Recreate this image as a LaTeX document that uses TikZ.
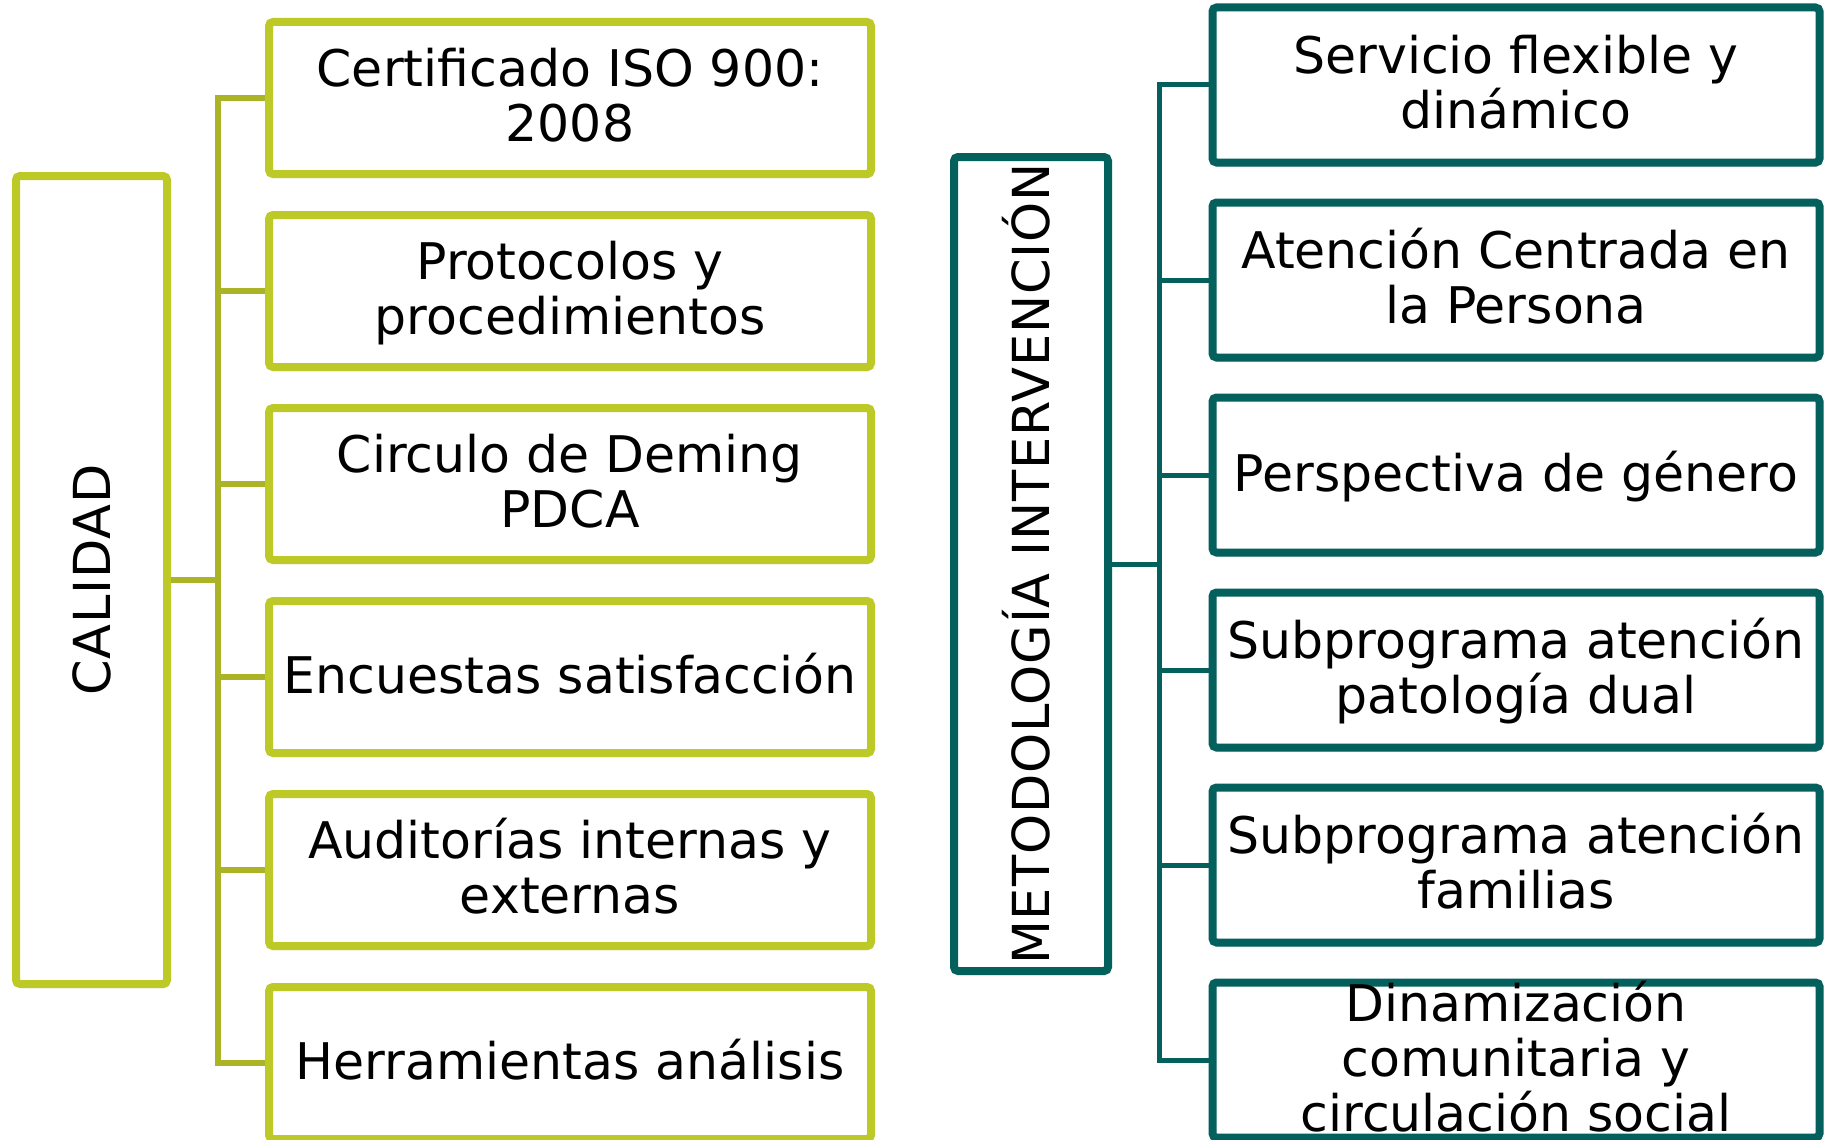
\documentclass[tikz,border=0pt]{standalone}
\usepackage{fontspec}
\setmainfont{DejaVu Sans}
\usetikzlibrary{shadows}
\definecolor{limec}{HTML}{BDC926}
\definecolor{limeline}{HTML}{AAB424}
\definecolor{tealc}{HTML}{03605C}
\newcommand{\sst}{\rule[-11pt]{0pt}{54pt}}
\begin{document}
\begin{tikzpicture}[x=1pt,y=-1pt,
  box/.style={draw, fill=white, line width=8pt, rounded corners=4pt, inner sep=0pt,
    drop shadow={shadow xshift=1.5pt, shadow yshift=-4pt, opacity=0.35, fill=black!45}},
  gbox/.style={box, draw=limec},
  tbox/.style={box, draw=tealc},
  lchild/.style={gbox, minimum width=602pt, minimum height=152pt},
  rchild/.style={tbox, minimum width=607pt, minimum height=155pt},
  txt/.style={font=\fontsize{50.5}{55}\selectfont, align=center, inner sep=0pt},
  rtxt/.style={font=\fontsize{51}{55}\selectfont\addfontfeature{LetterSpace=1.7}, inner sep=0pt, rotate=90, text height=37pt, text depth=0pt},
  gconn/.style={draw=limeline, line width=6pt},
  tconn/.style={draw=tealc, line width=5pt},
]
\useasboundingbox (0,0) rectangle (1824,1140);

% ---- left group ----
\node[gbox, minimum width=151pt, minimum height=808pt] (cal) at (91.5,580) {};
\node[rtxt] (calt) at (cal) {CALIDAD};

\node[lchild] (l1) at (570,98) {};
\node[lchild] (l2) at (570,291) {};
\node[lchild] (l3) at (570,484) {};
\node[lchild] (l4) at (570,677) {};
\node[lchild] (l5) at (570,870) {};
\node[lchild] (l6) at (570,1063) {};

\node[txt] (l1t) at (l1) {\sst Certificado ISO 900:\\\sst 2008};
\node[txt] (l2t) at (l2) {\sst Protocolos y\\\sst procedimientos};
\node[txt] (l3t) at (l3) {\sst Circulo de Deming\\\sst PDCA};
\node[txt] (l4t) at (l4) {\sst Encuestas satisfacción};
\node[txt] (l5t) at (l5) {\sst Auditorías internas y\\\sst externas};
\node[txt] (l6t) at (l6) {\sst Herramientas análisis};

\coordinate (lb) at (217.5,580);
\draw[gconn] (cal.east) -- (lb);
\draw[gconn] (l1.west) -- (lb |- l1.west) -- (lb |- l6.west) -- (l6.west);
\foreach \i in {2,3,4,5} {\draw[gconn] (lb |- l\i.west) -- (l\i.west);}

% ---- right group ----
\node[tbox, minimum width=154pt, minimum height=814pt] (meto) at (1031,564) {};
\node[rtxt] (metot) at (meto) {METODOLOGÍA INTERVENCIÓN};

\node[rchild] (r1) at (1516,85) {};
\node[rchild] (r2) at (1516,280) {};
\node[rchild] (r3) at (1516,475) {};
\node[rchild] (r4) at (1516,670) {};
\node[rchild] (r5) at (1516,865) {};
\node[rchild] (r6) at (1516,1060) {};

\node[txt] (r1t) at (r1) {\sst Servicio flexible y\\\sst dinámico};
\node[txt] (r2t) at (r2) {\sst Atención Centrada en\\\sst la Persona};
\node[txt] (r3t) at (r3) {\sst Perspectiva de género};
\node[txt] (r4t) at (r4) {\sst Subprograma atención\\\sst patología dual};
\node[txt] (r5t) at (r5) {\sst Subprograma atención\\\sst familias};
\node[txt] (r6t) at (r6) {\sst Dinamización\\\sst comunitaria y\\\sst circulación social};

\coordinate (rb) at (1159.5,564);
\draw[tconn] (meto.east) -- (rb);
\draw[tconn] (r1.west) -- (rb |- r1.west) -- (rb |- r6.west) -- (r6.west);
\foreach \i in {2,3,4,5} {\draw[tconn] (rb |- r\i.west) -- (r\i.west);}
\end{tikzpicture}
\end{document}
